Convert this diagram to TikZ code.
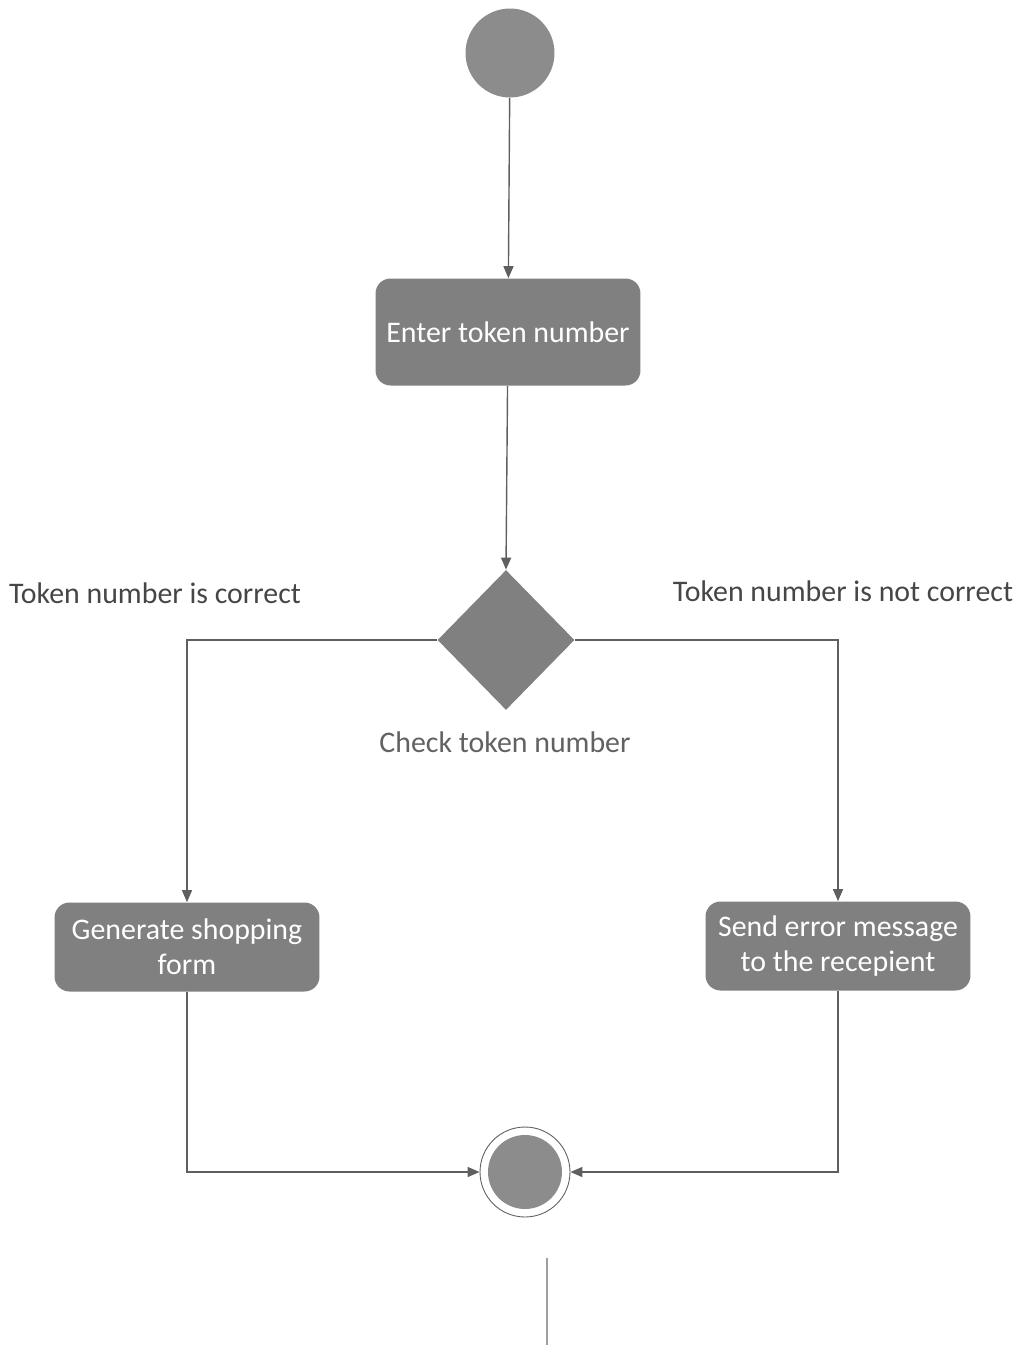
\documentclass[tikz,border=0pt]{standalone}
\usepackage{fontspec}
\setmainfont{Carlito}
\usetikzlibrary{shapes.geometric,arrows.meta}
\definecolor{boxgray}{RGB}{128,128,128}
\definecolor{dotgray}{RGB}{140,140,140}
\definecolor{linegray}{RGB}{95,95,95}
\definecolor{labelgray}{RGB}{70,70,70}
\begin{document}
\begin{tikzpicture}[x=0.02cm,y=-0.02cm,
  flow/.style={draw=linegray,line width=0.8pt,-{Triangle[length=0.24cm,width=0.2cm]}},
  plain/.style={draw=linegray,line width=0.8pt},
  action/.style={rectangle,rounded corners=0.3cm,fill=boxgray,draw=none,
    minimum width=5.3cm,text=white,align=center,
    font=\fontsize{17}{20}\selectfont},
  label/.style={text=labelgray,font=\fontsize{17}{20}\selectfont,inner sep=0pt}]
\useasboundingbox (0,0) rectangle (1025,1347);

% start state
\node[circle,fill=dotgray,minimum size=1.78cm,inner sep=0pt] (start) at (510,53) {};

% actions
\node[action,minimum height=2.14cm] (enter) at (508,332) {Enter token number};
\node[action,minimum height=1.78cm] (gen) at (187,947) {Generate shopping\\form};
\node[action,minimum height=1.78cm] (err) at (838,946) {Send error message\\to the recepient};

% decision
\node[diamond,fill=boxgray,minimum width=2.74cm,minimum height=2.8cm,inner sep=0pt] (check) at (506,640) {};

% final state
\node[circle,draw=linegray,line width=0.5pt,fill=white,minimum size=1.8cm,inner sep=0pt] (final) at (525,1172) {};
\node[circle,fill=dotgray,minimum size=1.48cm,inner sep=0pt] (finalin) at (525,1172) {};

% labels
\node[label] (lyes) at (155,593) {Token number is correct};
\node[label] (lno) at (843,591) {Token number is not correct};
\node[label,text=labelgray!85] (lcheck) at (505,742) {Check token number};

% connectors
\draw[flow] (start) -- (enter);
\draw[flow] (enter) -- (check.north);
\draw[flow] (check.west) -| (gen.north);
\draw[flow] (check.east) -| (err.north);
\draw[flow] (gen.south) |- (final.west);
\draw[flow] (err.south) |- (final.east);

% trailing line below the final state
\coordinate (tailtop) at (547,1258);
\coordinate (tailend) at (547,1345);
\draw[draw=linegray!60,line width=0.6pt] (tailtop) -- (tailend);
\end{tikzpicture}
\end{document}
